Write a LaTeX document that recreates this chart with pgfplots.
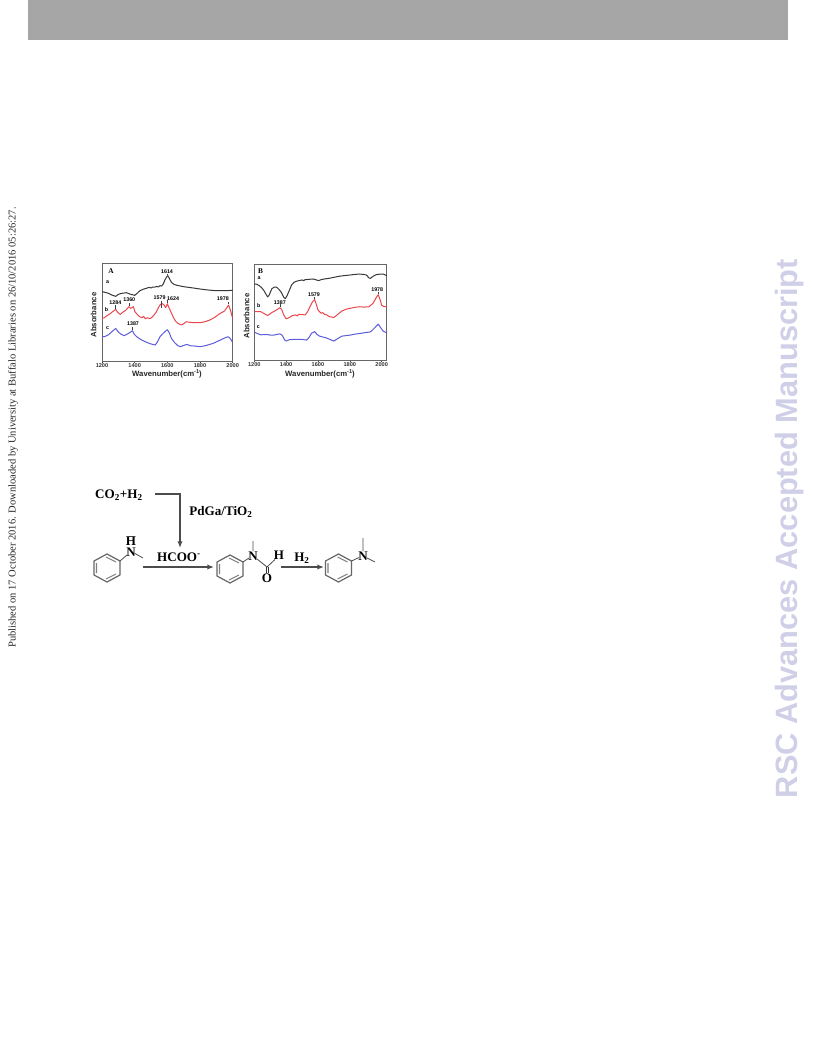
\documentclass[border=0pt]{standalone}
\usepackage{pgfplots}
\pgfplotsset{compat=1.18}
\usetikzlibrary{arrows.meta}
\usepackage{fontspec}
\setmainfont{Liberation Sans}
\newfontfamily\timesf{Liberation Serif}
\definecolor{hdr}{HTML}{A6A6A6}
\definecolor{wm}{HTML}{CFCFE8}
\definecolor{bkl}{HTML}{383838}
\definecolor{redl}{HTML}{E8474C}
\definecolor{blul}{HTML}{5C5CDC}
\pgfplotsset{
  panel/.style={
    scale only axis, anchor=north west, xmin=1200, ymin=0, ymax=293,
    xtick={1200,1400,1600,1800,2000}, minor x tick num=1, xtick pos=bottom,
    ytick=\empty, axis line style={draw=black!60, line width=0.7pt},
    tick align=outside, tick style={black!70, line width=0.4pt},
    major tick length=1.5pt, minor tick length=1pt,
    scaled x ticks=false,
    xticklabel style={font=\fontsize{4.2}{4.2}\selectfont\bfseries, /pgf/number format/assume math mode=true, /pgf/number format/set thousands separator={}, yshift=3pt, text=black!80},
    clip=true,
  },
  ser/.style={line width=0.75pt, line join=round, no markers},
  pk/.style={black!75, line width=0.35pt, no markers},
}
\newcommand{\lbl}[1]{{\fontsize{4}{4}\selectfont\bfseries #1}}
\newcommand{\wn}{Wavenumber(cm\raisebox{2.2pt}{\fontsize{4.2}{4}\selectfont -1})}
\begin{document}
\begin{tikzpicture}[x=0.75pt,y=-0.75pt]
\path[use as bounding box] (0,0) rectangle (816,1056);
\fill[hdr] (28,0) rectangle (788,40);
\node[rotate=90,text=wm,font=\fontsize{23.1}{26}\selectfont\bfseries,inner sep=0pt] at (790,528.5) {RSC Advances Accepted Manuscript};
\node[rotate=90,font=\timesf\fontsize{7.9}{8}\selectfont,text=black!85,inner sep=0pt] at (13,427.5) {Published on 17 October 2016. Downloaded by University at Buffalo Libraries on 26/10/2016 05:26:27.};

\begin{axis}[panel, at={(76.5pt,-197.5pt)}, width=98pt, height=73.3pt, xmax=2000]
\addplot[ser,bkl] coordinates {(1200,208)(1220,206)(1240,203)(1260,198)(1284,194)(1300,200)(1320,203)(1350,205)(1370,201)(1385,199)(1400,197)(1415,203)(1430,210)(1450,215)(1470,218)(1490,221)(1500,219)(1510,222)(1525,222)(1535,224)(1545,222)(1555,226)(1565,225)(1575,231)(1585,243)(1595,252)(1603,256)(1612,248)(1625,236)(1640,230)(1660,227)(1680,225)(1700,223)(1730,221)(1760,219)(1800,216)(1850,213)(1900,211)(1950,211)(2000,212)};
\addplot[ser,redl] coordinates {(1200,128)(1215,130)(1230,136)(1250,142)(1270,150)(1284,155)(1298,145)(1312,140)(1326,146)(1345,152)(1365,163)(1375,158)(1382,160)(1392,163)(1402,148)(1415,140)(1430,133)(1445,130)(1455,134)(1465,127)(1478,130)(1490,127)(1500,129)(1515,136)(1530,145)(1545,160)(1558,170)(1570,172)(1580,168)(1590,160)(1600,172)(1612,158)(1624,145)(1638,130)(1650,120)(1665,113)(1685,108)(1700,112)(1715,118)(1740,116)(1770,115)(1800,115)(1830,118)(1860,123)(1890,131)(1920,142)(1950,150)(1975,168)(1988,150)(2000,128)};
\addplot[ser,blul] coordinates {(1200,74)(1215,73)(1240,79)(1265,90)(1284,98)(1298,88)(1315,81)(1335,76)(1355,81)(1375,87)(1387,91)(1398,80)(1415,72)(1440,64)(1465,58)(1495,52)(1526,48)(1540,58)(1555,73)(1570,81)(1585,88)(1600,94)(1612,85)(1625,68)(1645,55)(1665,46)(1680,43)(1700,47)(1720,50)(1740,46)(1770,45)(1800,43)(1840,47)(1880,53)(1920,62)(1950,69)(1972,73)(1985,68)(2000,56)};
\addplot[pk] coordinates {(1602,257)(1602,262)};
\addplot[pk] coordinates {(1284,157)(1284,168)};
\addplot[pk] coordinates {(1365,165)(1365,175)};
\addplot[pk] coordinates {(1565,160)(1565,180)};
\addplot[pk] coordinates {(1600,175)(1600,183)};
\addplot[pk] coordinates {(1975,170)(1975,178)};
\addplot[pk] coordinates {(1387,92)(1387,102)};
\node[font=\timesf\fontsize{5.5}{5}\selectfont\bfseries] at (axis cs:1255,269) {A};
\node[font=\fontsize{4}{4}\selectfont\bfseries] at (axis cs:1235,236) {a};
\node[font=\fontsize{4}{4}\selectfont\bfseries] at (axis cs:1228,155) {b};
\node[font=\fontsize{4}{4}\selectfont\bfseries] at (axis cs:1235,100) {c};
\node[inner sep=0pt] at (axis cs:1598,268) {\lbl{1614}};
\node[inner sep=0pt] at (axis cs:1282,176) {\lbl{1284}};
\node[inner sep=0pt] at (axis cs:1367,183) {\lbl{1360}};
\node[inner sep=0pt] at (axis cs:1553,191) {\lbl{1579}};
\node[inner sep=0pt] at (axis cs:1635,186) {\lbl{1624}};
\node[inner sep=0pt] at (axis cs:1940,186) {\lbl{1978}};
\node[inner sep=0pt] at (axis cs:1390,113) {\lbl{1387}};
\end{axis}
\node[rotate=90,font=\fontsize{5.8}{6}\selectfont\bfseries,inner sep=0pt,text=black!85] at (93.5,315) {Absorbance};
\node[font=\fontsize{5.8}{6}\selectfont\bfseries,inner sep=0pt,text=black!85] at (167,374) {\wn};

\begin{axis}[panel, at={(190.7pt,-198.2pt)}, width=99.5pt, height=71.8pt, xmax=2033]
\addplot[ser,bkl] coordinates {(1200,233)(1215,232)(1230,228)(1245,222)(1260,213)(1275,200)(1284,193)(1295,200)(1310,218)(1325,223)(1340,223)(1355,216)(1370,207)(1385,192)(1395,188)(1405,196)(1420,213)(1435,230)(1450,238)(1465,241)(1480,243)(1500,245)(1510,243)(1520,246)(1545,247)(1570,248)(1590,245)(1605,243)(1620,246)(1640,248)(1670,250)(1700,253)(1730,256)(1760,258)(1800,260)(1830,262)(1860,263)(1885,262)(1905,260)(1920,251)(1930,250)(1945,256)(1965,261)(1990,263)(2010,263)(2033,258)};
\addplot[ser,redl] coordinates {(1200,148)(1220,148)(1240,148)(1262,142)(1284,136)(1300,142)(1320,148)(1340,153)(1360,160)(1372,155)(1385,138)(1400,126)(1420,130)(1440,136)(1460,138)(1470,135)(1480,140)(1500,139)(1520,138)(1535,148)(1550,163)(1565,178)(1579,185)(1590,170)(1600,153)(1620,143)(1630,145)(1640,140)(1655,138)(1670,133)(1700,130)(1725,140)(1750,150)(1780,156)(1800,158)(1830,161)(1860,163)(1890,162)(1920,163)(1945,173)(1962,188)(1978,200)(1990,185)(2000,168)(2015,163)(2033,163)};
\addplot[ser,blul] coordinates {(1200,85)(1220,81)(1240,77)(1262,78)(1284,78)(1300,76)(1320,76)(1340,78)(1360,80)(1375,76)(1390,62)(1400,58)(1420,62)(1440,63)(1470,63)(1500,63)(1530,61)(1545,70)(1560,82)(1579,87)(1595,78)(1610,73)(1650,68)(1680,62)(1700,58)(1725,66)(1750,73)(1780,75)(1800,76)(1830,79)(1860,81)(1900,84)(1930,86)(1955,98)(1978,110)(1995,98)(2010,88)(2033,83)};
\addplot[pk] coordinates {(1361,161)(1361,170)};
\addplot[pk] coordinates {(1579,186)(1579,192)};
\addplot[pk] coordinates {(1978,201)(1978,208)};
\node[font=\timesf\fontsize{5.5}{5}\selectfont\bfseries] at (axis cs:1240,272) {B};
\node[font=\fontsize{4}{4}\selectfont\bfseries] at (axis cs:1230,250) {a};
\node[font=\fontsize{4}{4}\selectfont\bfseries] at (axis cs:1228,166) {b};
\node[font=\fontsize{4}{4}\selectfont\bfseries] at (axis cs:1225,100) {c};
\node[inner sep=0pt] at (axis cs:1361,177) {\lbl{1387}};
\node[inner sep=0pt] at (axis cs:1575,200) {\lbl{1579}};
\node[inner sep=0pt] at (axis cs:1972,216) {\lbl{1978}};
\end{axis}
\node[rotate=90,font=\fontsize{5.8}{6}\selectfont\bfseries,inner sep=0pt,text=black!85] at (246.5,316) {Absorbance};
\node[font=\fontsize{5.8}{6}\selectfont\bfseries,inner sep=0pt,text=black!85] at (320,374) {\wn};

% reaction scheme
\begin{scope}[font=\timesf\bfseries\fontsize{9.8}{10}\selectfont]
\node[inner sep=0pt] at (119,495.5) {CO\textsubscript{2}+H\textsubscript{2}};
\node[inner sep=0pt] at (221,512) {PdGa/TiO\textsubscript{2}};
\node[inner sep=0pt] at (179,557) {HCOO\textsuperscript{-}};
\node[inner sep=0pt] at (302,558) {H\textsubscript{2}};
\node[inner sep=0pt] at (131,541) {H};
\node[inner sep=0pt] at (131,552) {N};
\node[inner sep=0pt] at (253,556) {N};
\node[inner sep=0pt] at (279,555.5) {H};
\node[inner sep=0pt] at (267,578) {O};
\node[inner sep=0pt] at (363,556) {N};
\end{scope}
\draw[black!70,line width=1pt,-{Latex[length=5pt,width=4pt]}] (155,494) -- (180,494) -- (180,548);
\draw[black!70,line width=1pt,-{Latex[length=5pt,width=4pt]}] (143,567) -- (214,567);
\draw[black!70,line width=1pt,-{Latex[length=5pt,width=4pt]}] (281,567) -- (324,567);
\draw[black!75,line width=0.6pt] (127,536.5) -- (135,536.5);
\foreach \cx/\cy in {107/568, 230/569, 338.5/568}{
  \draw[black!60,line width=0.9pt,line join=round] (\cx-13,\cy-7) -- (\cx,\cy-14) -- (\cx+13,\cy-7) -- (\cx+13,\cy+7) -- (\cx,\cy+14) -- (\cx-13,\cy+7) -- cycle;
  \draw[black!50,line width=0.8pt] (\cx-10.5,\cy-5) -- (\cx-10.5,\cy+5) (\cx-1,\cy-11) -- (\cx+9,\cy-6) (\cx-1,\cy+11) -- (\cx+9,\cy+6);
}
\draw[black!70,line width=0.6pt] (120,561) -- (127,555) (135,553.5) -- (143,558);
\draw[black!70,line width=0.6pt] (243,562) -- (249,558) (253,551) -- (253,541) (257,559) -- (267,567) -- (275,559.5);
\draw[black!80,line width=0.6pt] (266,567) -- (266,573) (268,567) -- (268,573);
\draw[black!70,line width=0.6pt] (351.5,561) -- (359,557.5) (363,551) -- (363,538) (367,558) -- (375,562);
\end{tikzpicture}
\end{document}
